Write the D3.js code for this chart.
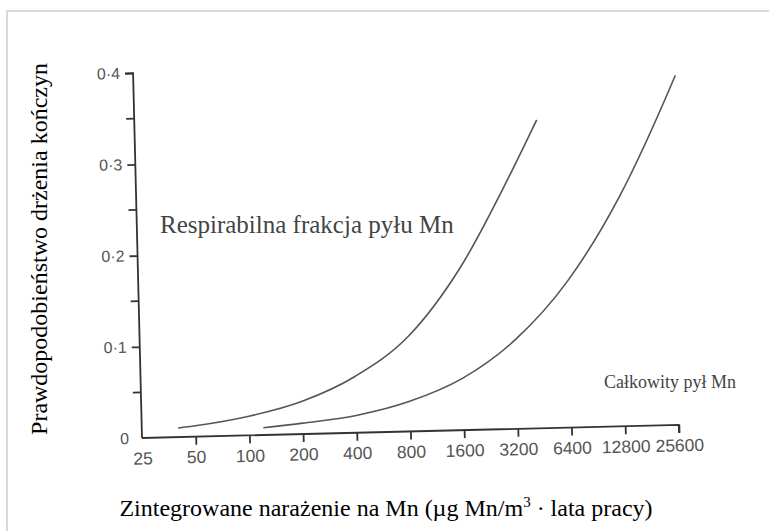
<!DOCTYPE html>
<html>
<head>
<meta charset="utf-8">
<script src="https://cdn.jsdelivr.net/npm/d3@7"></script>
<style>
  body { margin: 0; background: #fff; }
  svg { display: block; }
</style>
</head>
<body>
<div id="chart-area"></div>
<script>
// ticks on the axes
const xTicks = [25, 50, 100, 200, 400, 800, 1600, 3200, 6400, 12800, 25600]
const yTicks = [0, 0.1, 0.2, 0.3, 0.4]
const yMinor = [0.05, 0.15, 0.25, 0.35]

// respirable fraction curve
const respExposure = [40, 50, 100, 200, 400, 800, 1600, 3200, 4500]
const respProb = [0.010, 0.012, 0.021, 0.036, 0.062, 0.104, 0.178, 0.282, 0.338]

// total dust curve
const totalExposure = [120, 200, 400, 800, 1600, 3200, 6400, 12800, 25600, 27300]
const totalProb = [0.008, 0.012, 0.019, 0.033, 0.057, 0.098, 0.161, 0.252, 0.371, 0.383]

const WIDTH = 537
const HEIGHT = 365

const svg = d3.select("#chart-area")
    .append("svg")
    .attr("width", 769)
    .attr("height", 531)

// light frame
svg.append("rect")
    .attr("x", 7)
    .attr("y", 11)
    .attr("width", 800)
    .attr("height", 600)
    .attr("fill", "none")
    .attr("stroke", "#d9d9d9")
    .attr("stroke-width", 2)

// scanned figure is slightly tilted
const g = svg.append("g")
    .attr("transform", "translate(142, 438) rotate(-1.4)")

const x = d3.scaleLog().base(2)
    .domain([25, 25600])
    .range([0, WIDTH])

const y = d3.scaleLinear()
    .domain([0, 0.4])
    .range([0, -HEIGHT])

const ink = "#333"
const tickFont = "'Liberation Sans', Arial, sans-serif"
const serif = "'Liberation Serif', 'Times New Roman', serif"

// X axis
const xAxis = g.append("g")
    .call(d3.axisBottom(x)
        .tickValues(xTicks)
        .tickFormat(d => d)
        .tickSize(8)
        .tickPadding(6))
xAxis.select(".domain").attr("d", `M0,0H${WIDTH}V8`)
xAxis.selectAll(".tick").filter(d => d === 25).select("line").remove()
xAxis.selectAll("path, line").attr("stroke", ink).attr("stroke-width", 1.8)
xAxis.selectAll("text")
    .attr("fill", "#555")
    .attr("font-family", tickFont)
    .attr("font-size", "17.5px")

// Y axis
const yAxis = g.append("g")
    .call(d3.axisLeft(y)
        .tickValues(yTicks)
        .tickFormat(d => d === 0 ? "0" : d3.format(".1f")(d).replace(".", "·"))
        .tickSize(8)
        .tickPadding(5))
yAxis.select(".domain").attr("d", `M0,0V${-HEIGHT}H-8`)
yAxis.selectAll(".tick").filter(d => d === 0).select("line").remove()
yAxis.selectAll("path, line").attr("stroke", ink).attr("stroke-width", 1.8)
yAxis.selectAll("text")
    .attr("fill", "#555")
    .attr("font-family", tickFont)
    .attr("font-size", "16px")

g.selectAll(".minor")
    .data(yMinor)
    .enter().append("line")
    .attr("class", "minor")
    .attr("x1", -8)
    .attr("x2", 0)
    .attr("y1", d => y(d))
    .attr("y2", d => y(d))
    .attr("stroke", ink)
    .attr("stroke-width", 1.8)

// curves
const line = d3.line()
    .x(d => x(d[0]))
    .y(d => y(d[1]))
    .curve(d3.curveMonotoneX)

const series = [
    d3.zip(respExposure, respProb),
    d3.zip(totalExposure, totalProb)
]

g.selectAll(".curve")
    .data(series)
    .enter().append("path")
    .attr("class", "curve")
    .attr("d", line)
    .attr("fill", "none")
    .attr("stroke", "#555")
    .attr("stroke-width", 1.6)

// curve labels
svg.append("text")
    .attr("x", 160)
    .attr("y", 233)
    .attr("font-family", serif)
    .attr("font-size", "25px")
    .attr("fill", "#444")
    .text("Respirabilna frakcja pyłu Mn")

svg.append("text")
    .attr("x", 604)
    .attr("y", 388)
    .attr("font-family", serif)
    .attr("font-size", "18px")
    .attr("fill", "#444")
    .text("Całkowity pył Mn")

// X label
const xTitle = svg.append("text")
    .attr("x", 386)
    .attr("y", 516)
    .attr("text-anchor", "middle")
    .attr("font-family", serif)
    .attr("font-size", "24px")
    .attr("fill", "#000")
xTitle.append("tspan").text("Zintegrowane narażenie na Mn (µg Mn/m")
xTitle.append("tspan").attr("dy", -9).attr("font-size", "15px").text("3")
xTitle.append("tspan").attr("dy", 9).text(" · lata pracy)")

// Y label
svg.append("text")
    .attr("x", -249)
    .attr("y", 47)
    .attr("text-anchor", "middle")
    .attr("transform", "rotate(-90)")
    .attr("font-family", serif)
    .attr("font-size", "24px")
    .attr("fill", "#000")
    .text("Prawdopodobieństwo drżenia kończyn")
</script>
</body>
</html>
